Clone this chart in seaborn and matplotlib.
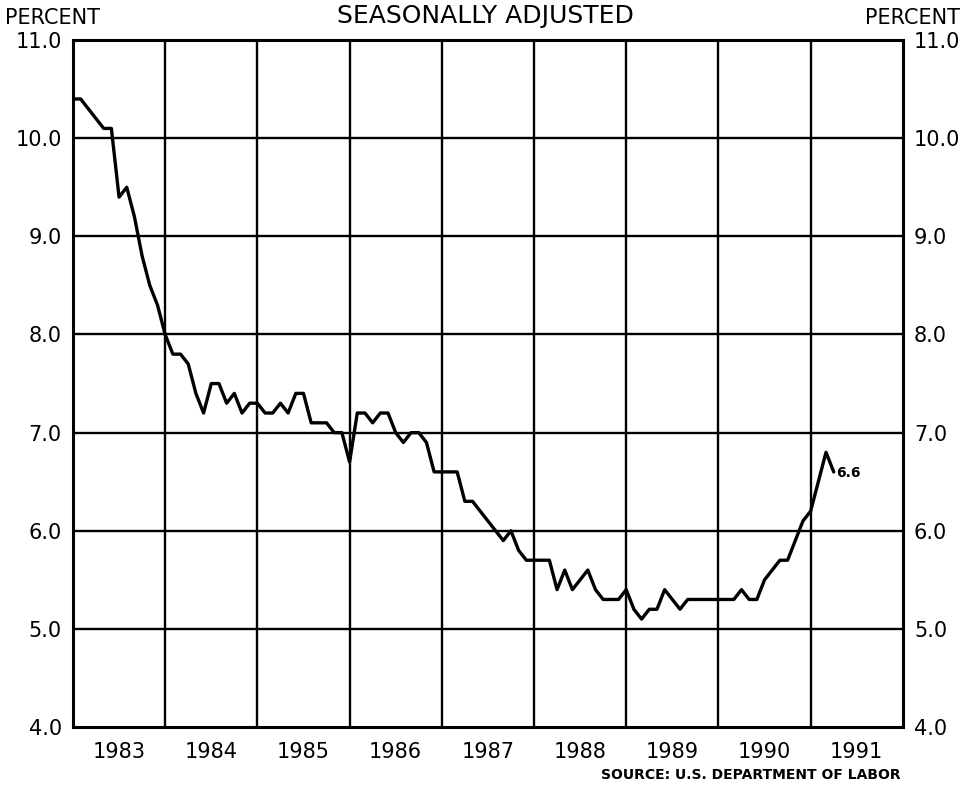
import numpy as np
import pandas as pd
import seaborn as sns
import matplotlib.pyplot as plt

# Monthly unemployment rate, Jan 1983 - Apr 1991
rate_1983 = [10.4, 10.4, 10.3, 10.2, 10.1, 10.1, 9.4, 9.5, 9.2, 8.8, 8.5, 8.3]
rate_1984 = [8.0, 7.8, 7.8, 7.7, 7.4, 7.2, 7.5, 7.5, 7.3, 7.4, 7.2, 7.3]
rate_1985 = [7.3, 7.2, 7.2, 7.3, 7.2, 7.4, 7.4, 7.1, 7.1, 7.1, 7.0, 7.0]
rate_1986 = [6.7, 7.2, 7.2, 7.1, 7.2, 7.2, 7.0, 6.9, 7.0, 7.0, 6.9, 6.6]
rate_1987 = [6.6, 6.6, 6.6, 6.3, 6.3, 6.2, 6.1, 6.0, 5.9, 6.0, 5.8, 5.7]
rate_1988 = [5.7, 5.7, 5.7, 5.4, 5.6, 5.4, 5.5, 5.6, 5.4, 5.3, 5.3, 5.3]
rate_1989 = [5.4, 5.2, 5.1, 5.2, 5.2, 5.4, 5.3, 5.2, 5.3, 5.3, 5.3, 5.3]
rate_1990 = [5.3, 5.3, 5.3, 5.4, 5.3, 5.3, 5.5, 5.6, 5.7, 5.7, 5.9, 6.1]
rate_1991 = [6.2, 6.5, 6.8, 6.6]

years = [1983, 1984, 1985, 1986, 1987, 1988, 1989, 1990, 1991]
year_labels = ["1983", "1984", "1985", "1986", "1987", "1988", "1989", "1990", "1991"]
y_ticks = [4.0, 5.0, 6.0, 7.0, 8.0, 9.0, 10.0, 11.0]
y_labels = ["4.0", "5.0", "6.0", "7.0", "8.0", "9.0", "10.0", "11.0"]
last_label = "6.6"

all_rates = (rate_1983 + rate_1984 + rate_1985 + rate_1986 + rate_1987
             + rate_1988 + rate_1989 + rate_1990 + rate_1991)
df = pd.DataFrame({"rate": all_rates})
df["date"] = 1983 + np.arange(len(df)) / 12

sns.set_style("white")
plt.rcParams['font.family'] = ['DejaVu Sans']
plt.rcParams['text.color'] = 'black'
plt.rcParams['xtick.color'] = 'black'
plt.rcParams['ytick.color'] = 'black'

fig = plt.figure(figsize=(9.65, 7.86), dpi=100)
ax = fig.add_axes([0.0756, 0.075, 0.860, 0.874])

sns.lineplot(data=df, x="date", y="rate", color="black", linewidth=2.4, ax=ax)

ax.set_xlim(1983, 1992)
ax.set_ylim(4, 11)

# grid lines at year boundaries and whole percents
for yr in years[1:]:
    ax.axvline(yr, color="black", linewidth=1.7, zorder=0)
for v in y_ticks[1:-1]:
    ax.axhline(v, color="black", linewidth=1.7, zorder=0)

for s in ax.spines.values():
    s.set_color("black")
    s.set_linewidth(2.2)

ax.set_xticks([y + 0.5 for y in years])
ax.set_xticklabels(year_labels)
ax.set_yticks(y_ticks)
ax.set_yticklabels(y_labels)
ax.tick_params(axis="both", length=0, labelsize=15, pad=11)
ax.tick_params(axis="y", labelright=True, pad=8)
ax.set_xlabel("")
ax.set_ylabel("")

ax.annotate(last_label, (df["date"].iloc[-1], df["rate"].iloc[-1]),
            xytext=(2, -1), textcoords="offset points", fontsize=10,
            fontweight="bold", va="center", ha="left")

fig.text(0.005, 0.977, "PERCENT", fontsize=15, ha="left", va="center")
fig.text(0.995, 0.977, "PERCENT", fontsize=15, ha="right", va="center")
fig.text(0.503, 0.980, "SEASONALLY ADJUSTED", fontsize=18, ha="center", va="center")
fig.text(0.933, 0.014, "SOURCE: U.S. DEPARTMENT OF LABOR", fontsize=10,
         fontweight="bold", ha="right", va="center")

fig.savefig("out.png", dpi=100)
